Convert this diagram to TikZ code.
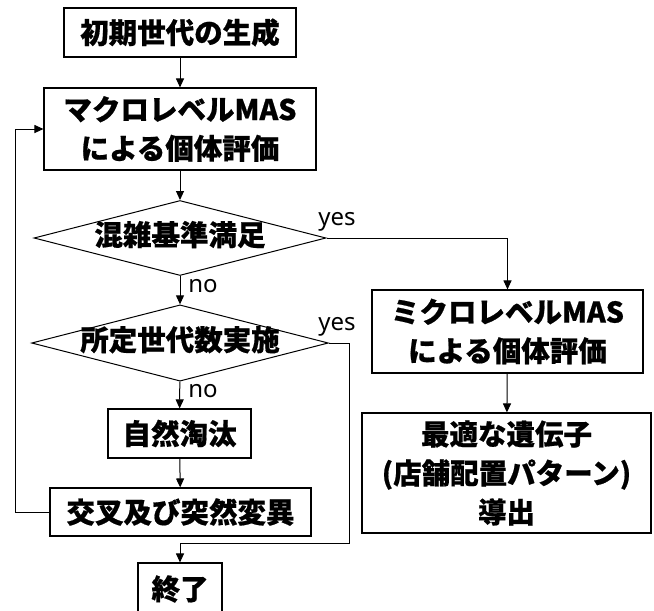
\documentclass[tikz,border=0pt]{standalone}
\usepackage{fontspec}
\newfontfamily\jp{Noto Sans CJK JP}[BoldFeatures={FakeBold=0.6}]
\newfontfamily\lab{Noto Sans}
\usetikzlibrary{shapes.geometric,arrows.meta}
\begin{document}
\begin{tikzpicture}[x=1pt,y=-1pt,
  box/.style={draw,line width=1.1pt,inner sep=0pt,font=\jp\bfseries\fontsize{28.5}{39}\selectfont,align=center},
  dia/.style={draw,line width=1pt,diamond,aspect=3.89,inner sep=0pt,minimum width=292pt,minimum height=75pt,
     text height=20pt,text depth=5pt,font=\jp\bfseries\fontsize{28.5}{39}\selectfont},
  lbl/.style={font=\lab\fontsize{24}{26}\selectfont,inner sep=0pt},
  conn/.style={line width=1pt,-{Triangle[length=9pt,width=8pt]}}]
\useasboundingbox (0,0) rectangle (654,611);
\node[box,minimum width=232pt,minimum height=49pt] (b1) at (180,32.5) {初期世代の生成};
\node[box,minimum width=272pt,minimum height=82pt] (b2) at (180,129) {マクロレベルMAS\\による個体評価};
\node[dia] (d1) at (180,238) {混雑基準満足};
\node[dia] (d2) at (180,343) {所定世代数実施};
\node[box,minimum width=143pt,minimum height=49pt] (b4) at (179.5,433.5) {自然淘汰};
\node[box,minimum width=261pt,minimum height=48pt] (b5) at (180.5,512) {交叉及び突然変異};
\node[box,minimum width=84pt,minimum height=60pt] (b6) at (180,593) {\raisebox{11pt}{終了}};
\node[box,minimum width=271pt,minimum height=83pt] (b3) at (507.5,331.5) {ミクロレベルMAS\\による個体評価};
\node[box,minimum width=289pt,minimum height=120pt] (b7) at (506.5,473) {最適な遺伝子\\(店舗配置パターン)\\導出};
\coordinate (c1) at (349,343);
\coordinate (c2) at (349,543);
\coordinate (c3) at (180,543);
\coordinate (c4) at (15,512);
\draw[conn] (b1) -- (b2);
\draw[conn] (b2) -- (d1);
\draw[conn] (d1) -- (d2);
\draw[conn] (d2) -- (b4);
\draw[conn] (b4) -- (b5);
\draw[conn] (d1.east) -| (b3.north);
\draw[conn] (b3) -- (b7);
\draw[conn] (d2.east) -- (c1) -- (c2) -- (c3) -- (b6.north);
\draw[conn] (b5.west) -- (c4) |- (b2.west);
\node[lbl] (y1) at (337,222) {yes};
\node[lbl] (y2) at (337,327) {yes};
\node[lbl] (n1) at (203,286) {no};
\node[lbl] (n2) at (203,391) {no};
\end{tikzpicture}
\end{document}
